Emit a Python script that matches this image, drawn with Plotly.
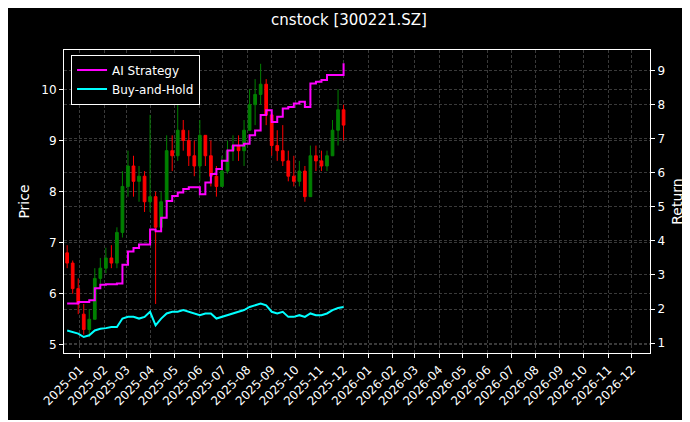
import plotly.graph_objects as go

dates = ["2024-12-16", "2024-12-23", "2024-12-30", "2025-01-06", "2025-01-13", "2025-01-20",
         "2025-01-27", "2025-02-03", "2025-02-10", "2025-02-17", "2025-02-24", "2025-03-03",
         "2025-03-10", "2025-03-17", "2025-03-24", "2025-03-31", "2025-04-07", "2025-04-14",
         "2025-04-21", "2025-04-28", "2025-05-05", "2025-05-12", "2025-05-19", "2025-05-26",
         "2025-06-02", "2025-06-09", "2025-06-16", "2025-06-23", "2025-06-30", "2025-07-07",
         "2025-07-14", "2025-07-21", "2025-07-28", "2025-08-04", "2025-08-11", "2025-08-18",
         "2025-08-25", "2025-09-01", "2025-09-08", "2025-09-15", "2025-09-22", "2025-09-29",
         "2025-10-06", "2025-10-13", "2025-10-20", "2025-10-27", "2025-11-03", "2025-11-10",
         "2025-11-17", "2025-11-24", "2025-12-01"]

open_ = [6.8, 6.6, 6.1, 5.6, 5.3, 5.5, 6.3, 6.5, 6.7, 6.6, 7.2, 8.1, 8.5, 8.2, 8.3, 7.8, 7.9,
         7.3, 7.8, 8.8, 8.7, 9.2, 9.0, 8.7, 8.5, 9.1, 8.7, 8.3, 8.1, 8.4, 8.8, 8.9, 8.8, 9.2,
         9.7, 9.9, 10.1, 9.5, 8.9, 8.8, 8.6, 8.3, 8.2, 8.4, 7.9, 8.7, 8.6, 8.5, 8.7, 9.2, 9.6]
high = [6.95, 6.65, 6.3, 5.8, 5.7, 6.5, 6.7, 6.9, 6.95, 7.3, 8.4, 8.8, 8.7, 8.5, 8.4, 9.5, 8.0,
        8.0, 9.1, 9.1, 9.7, 9.4, 9.2, 9.0, 9.4, 9.1, 9.0, 8.5, 8.7, 9.0, 9.1, 9.1, 9.4, 10.0,
        10.2, 10.5, 10.2, 9.5, 9.2, 9.3, 8.8, 8.7, 8.6, 8.5, 8.9, 8.9, 8.8, 8.8, 9.4, 10.0, 9.7]
low = [6.5, 6.0, 5.6, 5.2, 5.15, 5.5, 6.1, 6.4, 6.5, 6.5, 7.1, 7.9, 7.9, 7.8, 7.6, 7.6, 5.8,
       7.2, 7.7, 8.4, 8.6, 8.8, 8.5, 8.3, 8.2, 8.5, 8.1, 7.9, 8.1, 8.35, 8.6, 8.6, 8.5, 9.2,
       9.3, 9.7, 9.3, 8.7, 8.6, 8.5, 8.2, 8.1, 8.1, 7.8, 7.9, 8.4, 8.4, 8.4, 8.7, 8.9, 9.0]
close = [6.6, 6.1, 5.8, 5.3, 5.5, 6.3, 6.5, 6.7, 6.6, 7.2, 8.1, 8.5, 8.2, 8.3, 7.8, 7.9, 7.3,
         7.8, 8.8, 8.7, 9.2, 9.0, 8.7, 8.5, 9.1, 8.7, 8.3, 8.1, 8.4, 8.8, 8.9, 8.8, 9.2, 9.7,
         9.9, 10.1, 9.5, 8.9, 8.8, 8.6, 8.3, 8.2, 8.4, 7.9, 8.7, 8.6, 8.5, 8.7, 9.2, 9.6, 9.3]

ai_strategy = [2.16, 2.16, 2.21, 2.21, 2.26, 2.61, 2.71, 2.73, 2.73, 2.75, 3.30, 3.69, 3.79,
               3.89, 3.89, 4.33, 4.28, 4.68, 5.17, 5.32, 5.42, 5.52, 5.57, 5.57, 5.37, 5.71,
               5.96, 6.11, 6.35, 6.65, 6.80, 6.80, 6.85, 7.10, 7.24, 7.69, 7.83, 7.49, 7.64,
               7.88, 7.93, 8.03, 8.08, 7.93, 8.62, 8.67, 8.72, 8.87, 8.87, 8.87, 9.21]
buy_hold = [1.37, 1.32, 1.28, 1.18, 1.23, 1.37, 1.42, 1.44, 1.47, 1.47, 1.72, 1.77, 1.77,
            1.72, 1.77, 1.92, 1.52, 1.72, 1.87, 1.92, 1.92, 1.97, 1.92, 1.87, 1.82, 1.87,
            1.87, 1.72, 1.77, 1.82, 1.87, 1.92, 1.97, 2.06, 2.11, 2.16, 2.11, 1.92, 1.87,
            1.92, 1.77, 1.77, 1.82, 1.77, 1.87, 1.82, 1.82, 1.87, 1.97, 2.03, 2.06]

fig = go.Figure()

fig.add_trace(go.Candlestick(
    x=dates, open=open_, high=high, low=low, close=close,
    increasing=dict(line=dict(color="green", width=1), fillcolor="green"),
    decreasing=dict(line=dict(color="red", width=1), fillcolor="red"),
    whiskerwidth=0, showlegend=False, yaxis="y"
))
fig.add_trace(go.Scatter(x=dates, y=ai_strategy, name="AI Strategy", mode="lines",
                         line=dict(color="magenta", width=2, shape="hv"), yaxis="y2"))
fig.add_trace(go.Scatter(x=dates, y=buy_hold, name="Buy-and-Hold", mode="lines",
                         line=dict(color="cyan", width=2), yaxis="y2"))

axis_common = dict(showline=True, linecolor="white", linewidth=1, mirror=True,
                   ticks="outside", tickcolor="white", ticklen=4, color="white",
                   gridcolor="#3a3a3a", griddash="3px,2px", gridwidth=0.5, zeroline=False)

fig.update_layout(
    width=682, height=412,
    paper_bgcolor="black", plot_bgcolor="black",
    font=dict(family="DejaVu Sans", size=12, color="white"),
    title=dict(text="cnstock [300221.SZ]", x=0.5, xanchor="center", y=0.985, font=dict(size=15)),
    margin=dict(l=56, r=40, t=42, b=67, autoexpand=False),
    xaxis=dict(**axis_common, type="date", range=["2024-12-12", "2026-12-24"],
               dtick="M1", tickformat="%Y-%m", tickangle=-45, rangeslider=dict(visible=False)),
    yaxis=dict(**axis_common, range=[4.84, 10.77], dtick=1, title=dict(text="Price", standoff=8)),
    yaxis2=dict(**axis_common, overlaying="y", side="right", range=[0.71, 9.6], dtick=1,
                title=dict(text="Return", standoff=8)),
    legend=dict(x=0.012, y=0.985, xanchor="left", yanchor="top", bgcolor="black",
                bordercolor="white", borderwidth=1, font=dict(size=12)),
)

fig.write_html("out.html")
